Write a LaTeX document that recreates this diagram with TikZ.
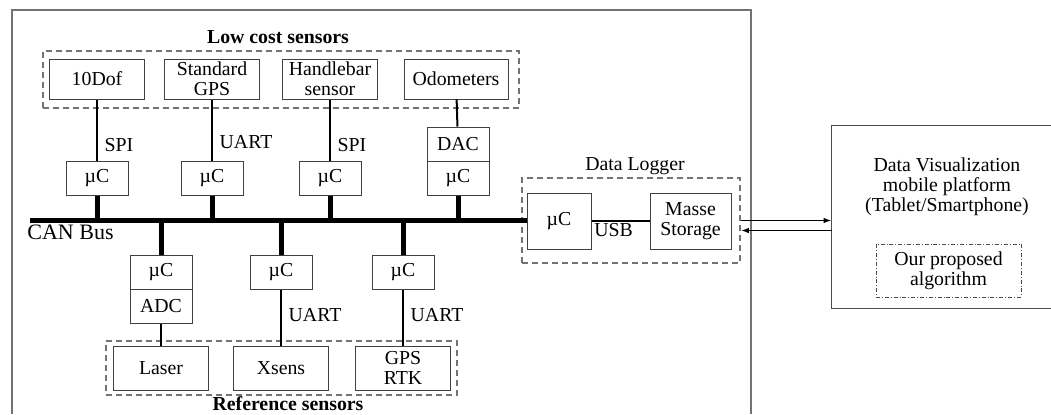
\documentclass[tikz,border=0pt]{standalone}
\usepackage{fontspec}
\setmainfont{Liberation Serif}
\usetikzlibrary{arrows.meta}
\begin{document}
\begin{tikzpicture}[x=0.5pt,y=-0.5pt,
        every node/.style={font=\fontsize{9.9}{10}\selectfont},
        box/.style={draw=black!75, line width=0.5pt, align=center, inner sep=0pt},
        sensor/.style={box, minimum width=47.5pt, minimum height=20pt},
        mcu/.style={box, minimum width=31pt, minimum height=17pt},
        grp/.style={draw=black!55, line width=0.8pt, dash pattern=on 3pt off 2pt, inner sep=0pt},
        grptitle/.style={font=\fontsize{9.9}{10}\selectfont\bfseries},
        wire/.style={line width=1pt},
        bus/.style={line width=2.5pt},
        frame/.style={draw=black!55, line width=0.7pt},
        arr/.style={line width=0.8pt, -{Latex[length=4pt,width=2.8pt]}}]
    \useasboundingbox (0,0) rectangle (1051,414);
    \draw[frame] (12,414) -- (12,10) -- (751,10) -- (751,414);

    \node[sensor] (dof) at (97,79) {10Dof};
    \node[sensor] (sgps) at (212,79) {Standard\\GPS};
    \node[sensor] (hbar) at (330,79) {Handlebar\\sensor};
    \node[sensor, minimum width=52pt] (odo) at (456,79) {Odometers};
    \node[grp, minimum width=238pt, minimum height=28.5pt] (lowgrp) at (281,79.5) {};
    \node[grptitle] (lowlbl) at (278,37) {Low cost sensors};

    \node[mcu] (mc1) at (97,178) {µC};
    \node[mcu] (mc2) at (212,178) {µC};
    \node[mcu] (mc3) at (330,178) {µC};
    \node[mcu] (mc4) at (458,178) {µC};
    \node[mcu] (dac) at (458,144) {DAC};

    \coordinate (busL) at (30,220);
    \node[mcu] (mc5) at (161,272) {µC};
    \node[mcu] (adc) at (161,306) {ADC};
    \node[mcu] (mc6) at (281,272) {µC};
    \node[mcu] (mc7) at (403,272) {µC};

    \node[sensor, minimum height=22pt] (laser) at (161,368) {Laser};
    \node[sensor, minimum height=22pt] (xsens) at (281,368) {Xsens};
    \node[sensor, minimum height=22pt] (rtk) at (403,368) {GPS\\RTK};
    \node[grp, minimum width=175.5pt, minimum height=27pt] (refgrp) at (281.5,368) {};
    \node[grptitle] (reflbl) at (288,403.5) {Reference sensors};

    \node[box, minimum width=32pt, minimum height=28pt] (logmc) at (559,221) {µC};
    \node[box, minimum width=40.5pt, minimum height=28pt] (store) at (690.5,221) {Masse\\Storage};
    \node[grp, minimum width=109pt, minimum height=42.5pt] (loggrp) at (631,220.5) {};
    \node (loglbl) at (635,166) {Data Logger};

    \node[minimum width=109.5pt, minimum height=91pt] (plat) at (941.5,217) {};
    \draw[frame, draw=black!70, line width=0.6pt] (plat.north east) -- (plat.north west) -- (plat.south west) -- (plat.south east);
    \node[align=center] (plattxt) at (947,187) {Data Visualization\\mobile platform\\(Tablet/Smartphone)};
    \node[box, draw=black!70, line width=0.4pt, dash pattern=on 2pt off 1pt on 0.4pt off 1pt, minimum width=72.5pt, minimum height=26.5pt] (algo) at (948.5,270.5) {Our proposed\\algorithm};

    \draw[wire] (dof) to node[right, pos=0.75] {SPI} (mc1); \draw[wire] (sgps) to node[right, pos=0.7] {UART} (mc2);
    \draw[wire] (hbar) to node[right, pos=0.75] {SPI} (mc3); \draw[wire] (odo) to (dac);
    \draw[wire] (adc) to (laser); \draw[wire] (mc6) to node[right, pos=0.45] {UART} (xsens);
    \draw[wire] (mc7) to node[right, pos=0.45] {UART} (rtk);

    \draw[bus] (busL) to (busL -| logmc.west);
    \node[anchor=north west, inner sep=1pt, font=\fontsize{11}{12}\selectfont] (canlbl) at (25,223) {CAN Bus};
    \draw[bus] (mc1.south) to (mc1.south |- busL); \draw[bus] (mc2.south) to (mc2.south |- busL);
    \draw[bus] (mc3.south) to (mc3.south |- busL); \draw[bus] (mc4.south) to (mc4.south |- busL);
    \draw[bus] (mc5.north) to (mc5.north |- busL); \draw[bus] (mc6.north) to (mc6.north |- busL);
    \draw[bus] (mc7.north) to (mc7.north |- busL);

    \draw[line width=0.8pt] (logmc) to node[below right, pos=0, inner sep=1pt] {USB} (store);
    \draw[arr] (loggrp.east) to (loggrp.east -| plat.west);
    \draw[arr] ([yshift=-5pt]loggrp.east -| plat.west) to ([yshift=-5pt]loggrp.east);
\end{tikzpicture}
\end{document}
